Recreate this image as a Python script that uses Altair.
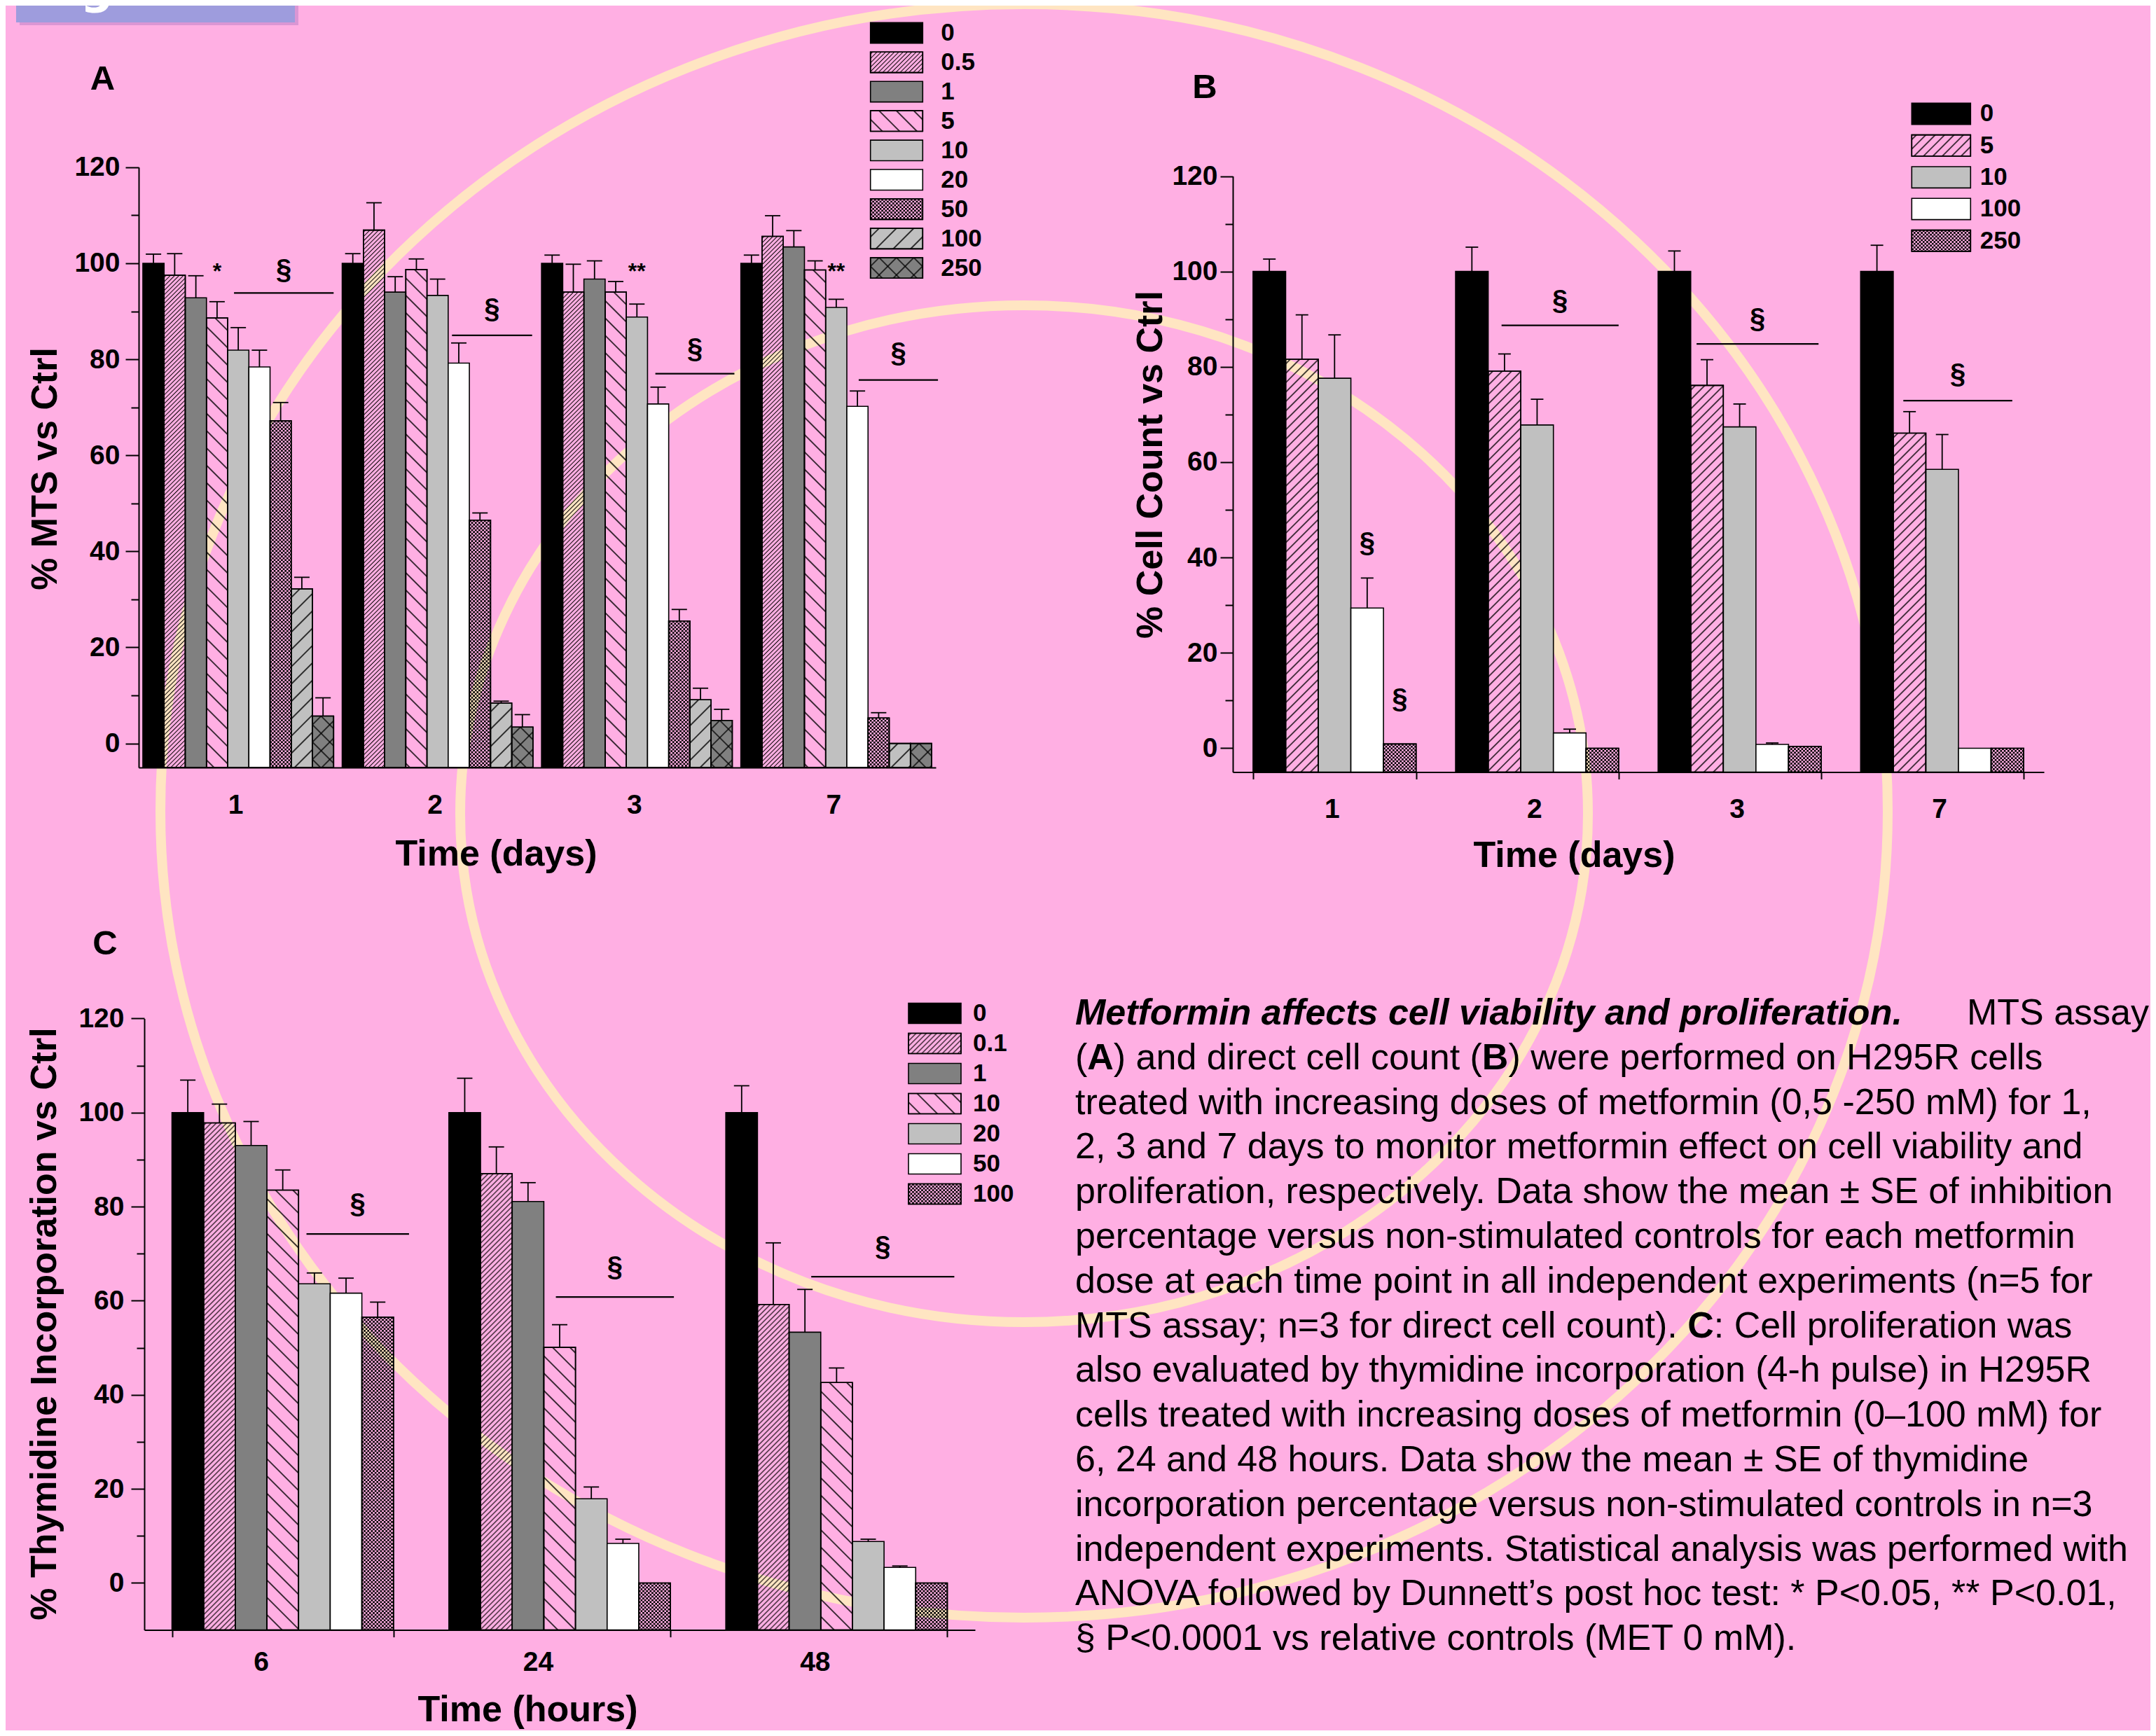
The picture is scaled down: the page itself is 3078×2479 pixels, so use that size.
import base64
import altair as alt
import pandas as pd

W, H = 3062, 2463
BG = "#FFAFE3"
RING = "#FFE5C2"
SANS = "Liberation Sans, Arial, Helvetica, sans-serif"

# ---------------- values ----------------
# Panel A : MTS assay
A_TIMES = ["1", "2", "3", "7"]
A_DOSES = ["0", "0.5", "1", "5", "10", "20", "50", "100", "250"]
A_MEAN = [
    [100, 97.5, 92.8, 88.6, 81.9, 78.4, 67.2, 32.2, 5.7],
    [100, 106.9, 94.0, 98.7, 93.3, 79.2, 46.5, 8.4, 3.4],
    [100, 94.0, 96.7, 94.0, 88.8, 70.7, 25.5, 9.1, 4.8],
    [100, 105.6, 103.4, 98.6, 90.8, 70.2, 5.3, 0.0, 0.0],
]
A_SE = [
    [1.9, 4.5, 4.6, 3.4, 4.7, 3.5, 3.8, 2.4, 3.8],
    [2.0, 5.7, 3.2, 2.2, 3.4, 4.2, 1.5, 0.4, 2.6],
    [1.7, 5.8, 3.8, 2.2, 2.7, 3.5, 2.4, 2.4, 2.3],
    [1.7, 4.3, 3.4, 1.9, 1.7, 3.2, 1.1, 0.0, 0.0],
]
# (time, first bar slot, last bar slot, line level, symbol level)
A_SIG = [("1", 4.3, 9.0, 93.8, 98.6), ("2", 5.18, 8.96, 85.0, 90.4),
         ("3", 5.37, 9.1, 77.0, 82.1), ("7", 5.56, 9.3, 75.7, 81.2)]
A_STARS = [("1", "5", 98.3, "*"), ("3", "10", 98.3, "**"), ("7", "10", 98.3, "**")]

# Panel B : direct cell count
B_TIMES = ["1", "2", "3", "7"]
B_DOSES = ["0", "5", "10", "100", "250"]
B_MEAN = [
    [100, 81.6, 77.6, 29.4, 0.9],
    [100, 79.1, 67.8, 3.2, 0.0],
    [100, 76.1, 67.4, 0.8, 0.4],
    [100, 66.1, 58.5, 0.0, 0.0],
]
B_SE = [
    [2.6, 9.3, 9.1, 6.3, 0.0],
    [5.1, 3.6, 5.4, 0.8, 0.0],
    [4.3, 5.4, 4.8, 0.3, 0.0],
    [5.5, 4.5, 7.3, 0.0, 0.0],
]
B_SIG = [("2", 1.41, 5.0, 88.7, 93.8), ("3", 1.18, 4.92, 84.8, 90.0), ("7", 1.31, 4.65, 72.9, 78.4)]
B_SECT = [("1", "100", 43.0, "§"), ("1", "250", 10.2, "§")]

# Panel C : thymidine incorporation
C_TIMES = ["6", "24", "48"]
C_DOSES = ["0", "0.1", "1", "10", "20", "50", "100"]
C_MEAN = [
    [100, 97.8, 93.0, 83.5, 63.6, 61.6, 56.5],
    [100, 87.0, 81.1, 50.1, 17.9, 8.4, 0.0],
    [100, 59.2, 53.3, 42.6, 8.8, 3.3, 0.0],
]
C_SE = [
    [6.9, 4.0, 5.1, 4.3, 2.3, 3.2, 3.2],
    [7.3, 5.7, 4.0, 4.8, 2.5, 0.9, 0.0],
    [5.7, 13.1, 9.1, 3.1, 0.5, 0.3, 0.0],
]
C_SIG = [("6", 4.25, 7.49, 74.2, 80.5), ("24", 3.38, 7.11, 60.8, 67.0), ("48", 2.70, 7.22, 65.1, 71.4)]

# Caption: line index -> text (lines 1 and 7 carry bold panel letters, given as segments)
CAPTION_HEAD = "Metformin affects cell viability and proliferation."
CAPTION_TAIL = "MTS assay"
CAPTION_PLAIN = {
    2: "treated with increasing doses of metformin (0,5 -250 mM) for 1,",
    3: "2, 3 and 7 days to monitor metformin effect on cell viability and",
    4: "proliferation, respectively. Data show the mean \u00b1 SE of inhibition",
    5: "percentage versus non-stimulated controls for each metformin",
    6: "dose at each time point in all independent experiments (n=5 for",
    8: "also evaluated by thymidine incorporation (4-h pulse) in H295R",
    9: "cells treated with increasing doses of metformin (0\u2013100 mM) for",
    10: "6, 24 and 48 hours. Data show the mean \u00b1 SE of thymidine",
    11: "incorporation percentage versus non-stimulated controls in n=3",
    12: "independent experiments. Statistical analysis was performed with",
    13: "ANOVA followed by Dunnett\u2019s post hoc test: * P<0.05, ** P<0.01,",
    14: "\u00a7 P<0.0001 vs relative controls (MET 0 mM).",
}
# (line, offset in em of the Arial-metric font, text)
CAPTION_REG_SEGS = [(1, 0.0, "("), (1, 1.055, ") and direct cell count ("),
                    (1, 11.892, ") were performed on H295R cells"),
                    (7, 0.0, "MTS assay; n=3 for direct cell count)."), (7, 17.534, ": Cell proliferation was")]
CAPTION_BOLD_SEGS = [(1, 0.333, "A"), (1, 11.17, "B"), (7, 16.812, "C")]


# ---------------- hatch patterns (small SVG images laid into bars) ----------------
def _stripes(spacing, width, angle, cross=False):
    s = spacing
    inner = f'<line x1="{s/2}" y1="-1" x2="{s/2}" y2="{s+1}" stroke="#000" stroke-width="{width}"/>'
    if cross:
        inner += f'<line x1="-1" y1="{s/2}" x2="{s+1}" y2="{s/2}" stroke="#000" stroke-width="{width}"/>'
    return (f'<pattern id="p" patternUnits="userSpaceOnUse" width="{s}" height="{s}" '
            f'patternTransform="rotate({angle})">{inner}</pattern>')


def _checker(c):
    return (f'<pattern id="p" patternUnits="userSpaceOnUse" width="{2*c}" height="{2*c}">'
            f'<rect width="{c}" height="{c}" fill="#000"/>'
            f'<rect x="{c}" y="{c}" width="{c}" height="{c}" fill="#000"/></pattern>')


def _url(pat):
    svg = ('<svg xmlns="http://www.w3.org/2000/svg" width="100%" height="100%"><defs>' + pat +
           '</defs><rect width="100%" height="100%" fill="url(#p)"/></svg>')
    return "data:image/svg+xml;base64," + base64.b64encode(svg.encode()).decode()


URLS = {
    "fwd_dense": _url(_stripes(4.4, 1.0, 45)),
    "fwd_dense2": _url(_stripes(5.2, 1.1, 45)),
    "fwd_med": _url(_stripes(9.5, 1.4, 45)),
    "fwd_sparse": _url(_stripes(17.5, 1.5, 45)),
    "back_sparse": _url(_stripes(17.5, 1.5, -45)),
    "cross_sparse": _url(_stripes(17.5, 1.4, 45, cross=True)),
    "checker": _url(_checker(2.6)),
}

T = "transparent"
A_STYLE = {"0": ("#000000", None), "0.5": (T, "fwd_dense"), "1": ("#808080", None),
           "5": (T, "back_sparse"), "10": ("#C0C0C0", None), "20": ("#FFFFFF", None),
           "50": (T, "checker"), "100": ("#C0C0C0", "fwd_sparse"), "250": ("#808080", "cross_sparse")}
B_STYLE = {"0": ("#000000", None), "5": (T, "fwd_med"), "10": ("#C0C0C0", None),
           "100": ("#FFFFFF", None), "250": (T, "checker")}
C_STYLE = {"0": ("#000000", None), "0.1": (T, "fwd_dense2"), "1": ("#808080", None),
           "10": (T, "back_sparse"), "20": ("#C0C0C0", None), "50": ("#FFFFFF", None),
           "100": (T, "checker")}

# ---------------- layout of each panel ----------------
GA = dict(xr=[190, 1328], pin=0.043, pout=0.021, yd=[-5, 120], yr=[1087.9, 230.8], xticks=0,
          xlp=35, xlo=-4, ylp=8, ymaj=19, xtitle="Time (days)", xtx=700, xty=124,
          ytitle="% MTS vs Ctrl", ytx=56, yty=661, cap=22)
GB = dict(xr=[1752, 2910], pin=0.195, pout=0.1, yd=[-5, 120], yr=[1094.5, 243.5], xticks=10,
          xlp=23.7, xlo=-4, ylp=4, ymaj=18, xtitle="Time (days)", xtx=2239, xty=118.5,
          ytitle="% Cell Count vs Ctrl", ytx=1634.5, yty=655, cap=18)
GC = dict(xr=[198, 1384], pin=0.2, pout=0.1, yd=[-10, 120], yr=[2319.6, 1446.4], xticks=10,
          xlp=17.1, xlo=-31, ylp=10, ymaj=19, xtitle="Time (hours)", xtx=745, xty=114,
          ytitle="% Thymidine Incorporation vs Ctrl", ytx=55.5, yty=1882, cap=22)

CAP_X, CAP_FS = 1527, 52


def one():
    return pd.DataFrame({"k": [0]})


def bar_table(times, doses, means, ses, style):
    rows = []
    for ti, t in enumerate(times):
        for di, d in enumerate(doses):
            m, se = means[ti][di], ses[ti][di]
            fill, pat = style[d]
            rows.append(dict(time=t, dose=d, mean=m, se=se, hi=m + se, fill=fill,
                             url=URLS[pat] if pat else ""))
    return pd.DataFrame(rows)


def sig_table(sig, times, ndoses, pin, pout):
    rows = []
    for t, j0, j1, yl, ysym in sig:
        i = times.index(t)
        u0 = pout + i + (1 - pin) * j0 / ndoses
        u1 = pout + i + (1 - pin) * j1 / ndoses
        rows.append(dict(u0=u0, u1=u1, um=(u0 + u1) / 2, yl=yl, ys=ysym))
    return pd.DataFrame(rows)


def panel(times, doses, means, ses, style, g, sig, notes):
    df = bar_table(times, doses, means, ses, style)
    xs = alt.Scale(domain=times, range=g["xr"], paddingInner=g["pin"], paddingOuter=g["pout"], round=False)
    os_ = alt.Scale(domain=doses, paddingInner=0, paddingOuter=0, round=False)
    ys = alt.Scale(domain=g["yd"], range=g["yr"], nice=False, zero=False)
    xaxis = alt.Axis(orient="bottom", offset=g["yr"][0] - H, ticks=g["xticks"] > 0,
                     tickSize=g["xticks"], tickBand="extent", labelPadding=g["xlp"],
                     labelOffset=g["xlo"], labelAngle=0,
                     title=g["xtitle"], titleX=g["xtx"], titleY=g["xty"], titleAlign="center",
                     titleBaseline="middle", zindex=1)
    yaxis = alt.Axis(orient="left", offset=-g["xr"][0], values=list(range(0, 121, 20)),
                     tickSize=g["ymaj"], labelPadding=g["ylp"], labelOverlap=False, title=g["ytitle"],
                     titleX=g["ytx"] - g["xr"][0], titleY=g["yty"], titleAngle=270,
                     titleAlign="center", titleBaseline="middle", zindex=1)
    yminor = alt.Axis(orient="left", offset=-g["xr"][0], values=list(range(10, 120, 20)),
                      tickSize=11, labels=False, domain=False, title="", zindex=1)
    X = alt.X("time:N", scale=xs, axis=xaxis)
    Xn = alt.X("time:N", scale=xs, axis=None)
    XO = alt.XOffset("dose:N", scale=os_)
    Y = alt.Y("mean:Q", scale=ys, axis=yaxis)
    Yn = alt.Y("mean:Q", scale=ys, axis=None)
    base2 = alt.datum(g["yd"][0])
    hatched = df[df["url"] != ""]
    werr = df[df["se"] > 0]

    bars = alt.Chart(df).mark_bar(stroke="black", strokeWidth=1.6).encode(
        x=X, xOffset=XO, y=Y, y2=base2, fill=alt.Fill("fill:N", scale=None))
    imgs = alt.Chart(hatched).mark_image(aspect=False).encode(
        x=Xn, xOffset=XO, y=Yn, y2=base2, url=alt.Url("url:N"))
    outl = alt.Chart(hatched).mark_bar(fillOpacity=0, stroke="black", strokeWidth=1.6).encode(
        x=Xn, xOffset=XO, y=Yn, y2=base2)
    errs = alt.Chart(werr).mark_rule(color="black", strokeWidth=1.8).encode(
        x=Xn, xOffset=XO, y=alt.Y("mean:Q", scale=ys, axis=yminor), y2="hi:Q")
    caps = alt.Chart(werr).mark_tick(color="black", thickness=1.8, size=g["cap"], opacity=1).encode(
        x=Xn, xOffset=XO, y=alt.Y("hi:Q", scale=ys, axis=None))
    layers = [bars, imgs, outl, errs, caps]
    for rows, fs in notes:
        nd = pd.DataFrame(rows, columns=["time", "dose", "y", "t"])
        layers.append(alt.Chart(nd).mark_text(font=SANS, fontWeight="bold", fontSize=fs,
                                              baseline="middle", color="black").encode(
            x=Xn, xOffset=XO, y=alt.Y("y:Q", scale=ys, axis=None), text="t:N"))
    core = alt.layer(*layers).resolve_axis(x="independent", y="independent")

    n = len(times)
    span = n - g["pin"] + 2 * g["pout"]
    xq = alt.Scale(domain=[0, span], range=g["xr"], nice=False, zero=False)
    st = sig_table(sig, times, len(doses), g["pin"], g["pout"])
    lines = alt.Chart(st).mark_rule(color="black", strokeWidth=2.2).encode(
        x=alt.X("u0:Q", scale=xq, axis=None), x2="u1:Q", y=alt.Y("yl:Q", scale=ys, axis=None))
    syms = alt.Chart(st).mark_text(text="\u00a7", font=SANS, fontWeight="bold", fontSize=40,
                                   baseline="middle", color="black").encode(
        x=alt.X("um:Q", scale=xq, axis=None), y=alt.Y("ys:Q", scale=ys, axis=None))
    ann = alt.layer(lines, syms)
    return alt.layer(core, ann).resolve_scale(x="independent").resolve_axis(x="independent", y="independent")


def legend(doses, style, x0, x1, xt, yr, pin):
    ldf = pd.DataFrame({"dose": doses,
                        "fill": [style[d][0] for d in doses],
                        "url": [URLS[style[d][1]] if style[d][1] else "" for d in doses]})
    ys = alt.Scale(domain=doses, range=yr, paddingInner=pin, paddingOuter=0, round=False)
    Y = alt.Y("dose:N", scale=ys, axis=None)
    hat = ldf[ldf["url"] != ""]
    sw = alt.Chart(ldf).mark_rect(stroke="black", strokeWidth=1.6).encode(
        x=alt.value(x0), x2=alt.value(x1), y=Y, fill=alt.Fill("fill:N", scale=None))
    im = alt.Chart(hat).mark_image(aspect=False).encode(
        x=alt.value(x0), x2=alt.value(x1), y=Y, url=alt.Url("url:N"))
    ol = alt.Chart(hat).mark_rect(fillOpacity=0, stroke="black", strokeWidth=1.6).encode(
        x=alt.value(x0), x2=alt.value(x1), y=Y)
    tx = alt.Chart(ldf).mark_text(align="left", baseline="middle", font=SANS, fontWeight="bold",
                                  fontSize=35, color="black").encode(
        x=alt.value(xt), y=Y, text="dose:N")
    return alt.layer(sw, im, ol, tx)


def ellipse(cx, cy, a, b):
    r = b / a
    path = f"M -1 0 A 1 {r:.4f} 0 1 0 1 0 A 1 {r:.4f} 0 1 0 -1 0 Z"
    return alt.Chart(one()).mark_point(shape=path, size=(2 * a) ** 2, filled=False, color=RING,
                                       strokeWidth=14, opacity=1).encode(
        x=alt.value(cx), y=alt.value(cy))


def letter(txt, x, y):
    return alt.Chart(one()).mark_text(text=txt, font=SANS, fontWeight="bold", fontSize=49,
                                      align="center", baseline="middle", color="black").encode(
        x=alt.value(x), y=alt.value(y))


# decorations
ring_big = ellipse(1454, 1150, 1233, 1152)
ring_small = ellipse(1454, 1154, 805, 726)
shadow = alt.Chart(one()).mark_rect(color="#DA96D4").encode(
    x=alt.value(20), x2=alt.value(418), y=alt.value(-10), y2=alt.value(28))
box = alt.Chart(one()).mark_rect(color="#9E9CDD").encode(
    x=alt.value(15), x2=alt.value(413), y=alt.value(-10), y2=alt.value(24))
figtext = alt.Chart(one()).mark_text(text="Figure 1", font="DejaVu Sans", fontWeight="bold",
                                     fontSize=66, align="left", baseline="alphabetic",
                                     color="white").encode(x=alt.value(39), y=alt.value(-4))

# caption
cap_scale = alt.Scale(type="point", domain=list(range(15)), range=[1439, 1439 + 14 * 63.8], padding=0)
CY = alt.Y("i:O", scale=cap_scale, axis=None)
plain_df = pd.DataFrame({"i": list(CAPTION_PLAIN.keys()), "t": list(CAPTION_PLAIN.values())})
reg_df = pd.DataFrame({"i": [s[0] for s in CAPTION_REG_SEGS],
                       "x": [CAP_X + s[1] * CAP_FS for s in CAPTION_REG_SEGS],
                       "t": [s[2] for s in CAPTION_REG_SEGS]})
bold_df = pd.DataFrame({"i": [s[0] for s in CAPTION_BOLD_SEGS],
                        "x": [CAP_X + s[1] * CAP_FS for s in CAPTION_BOLD_SEGS],
                        "t": [s[2] for s in CAPTION_BOLD_SEGS]})
head_df = pd.DataFrame({"i": [0], "t": [CAPTION_HEAD]})
tail_df = pd.DataFrame({"i": [0], "t": [CAPTION_TAIL]})
txt_kw = dict(baseline="middle", font=SANS, fontSize=CAP_FS, color="black")
cap_plain = alt.Chart(plain_df).mark_text(align="left", **txt_kw).encode(
    x=alt.value(CAP_X), y=CY, text="t:N")
cap_reg = alt.Chart(reg_df).mark_text(align="left", **txt_kw).encode(
    x=alt.X("x:Q", scale=None), y=CY, text="t:N")
cap_bold = alt.Chart(bold_df).mark_text(align="left", fontWeight="bold", **txt_kw).encode(
    x=alt.X("x:Q", scale=None), y=CY, text="t:N")
cap_head = alt.Chart(head_df).mark_text(align="left", fontWeight="bold", fontStyle="italic", **txt_kw).encode(
    x=alt.value(CAP_X), y=CY, text="t:N")
cap_tail = alt.Chart(tail_df).mark_text(align="right", **txt_kw).encode(
    x=alt.value(3060), y=CY, text="t:N")
caption = alt.layer(cap_plain, cap_reg, cap_bold, cap_head, cap_tail)

pA = panel(A_TIMES, A_DOSES, A_MEAN, A_SE, A_STYLE, GA, A_SIG, [(A_STARS, 32)])
pB = panel(B_TIMES, B_DOSES, B_MEAN, B_SE, B_STYLE, GB, B_SIG, [(B_SECT, 40)])
pC = panel(C_TIMES, C_DOSES, C_MEAN, C_SE, C_STYLE, GC, C_SIG, [])

legA = legend(A_DOSES, A_STYLE, 1234.7, 1309.3, 1335.3, [24.3, 389.3], 0.3)
legB = legend(B_DOSES, B_STYLE, 2721.3, 2805.3, 2818.7, [139.3, 351.0], 0.33)
legC = legend(C_DOSES, C_STYLE, 1289, 1364, 1381, [1424.5, 1711.5], 0.326)

chart = alt.layer(
    ring_big, ring_small, shadow, box, figtext, caption,
    pA, pB, pC, legA, legB, legC,
    letter("A", 138.5, 104.5), letter("B", 1712, 117), letter("C", 142, 1340),
).resolve_scale(
    x="independent", y="independent", xOffset="independent"
).resolve_axis(
    x="independent", y="independent"
).properties(
    width=W, height=H, autosize=alt.AutoSizeParams(type="none"), padding=0, background=BG
).configure_view(
    stroke="transparent"
).configure_axis(
    labelFont=SANS, titleFont=SANS, labelFontWeight="bold", titleFontWeight="bold",
    labelFontSize=39, titleFontSize=52, labelColor="black", titleColor="black",
    domainColor="black", tickColor="black", domainWidth=2, tickWidth=2, grid=False,
)

chart.save("out.html", embed_options={"renderer": "svg", "actions": False})
